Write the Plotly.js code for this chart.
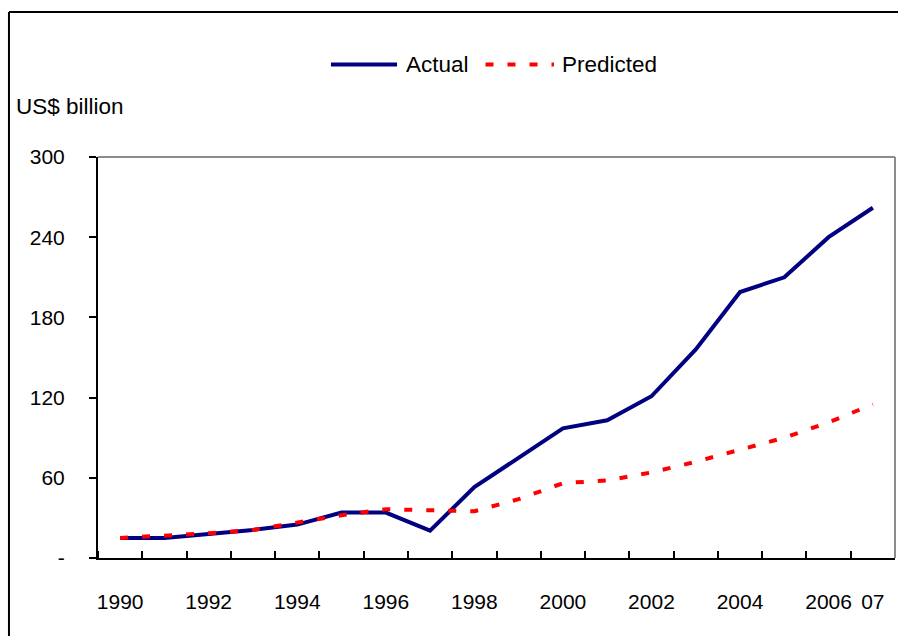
<!DOCTYPE html>
<html>
<head>
<meta charset="utf-8">
<script src="https://cdn.plot.ly/plotly-3.0.1.min.js"></script>
<style>html,body{margin:0;padding:0;background:#fff;}#chart{width:898px;height:636px;}</style>
</head>
<body>
<div id="chart"></div>
<script>
var years = [1990,1991,1992,1993,1994,1995,1996,1997,1998,1999,2000,2001,2002,2003,2004,2005,2006,2007];
var actual = [15,15,18,21,25,34,34,20.5,53,75,97,103,121,156,199,210,240,262];
var predicted = [15,16.5,18.5,21,26.5,32,36.5,35.5,35,44,56,58,64,72,81,90,101.5,115];
var xTickVals = [1990,1992,1994,1996,1998,2000,2002,2004,2006,2007];
var xTickText = ['1990','1992','1994','1996','1998','2000','2002','2004','2006','07'];
var yTickVals = [0,60,120,180,240,300];
var yTickText = ['-','60','120','180','240','300'];
var seriesNames = ['Actual','Predicted'];

var FONT = 'Liberation Sans, Arial, sans-serif';
var traces = [
  {x: years, y: actual, name: seriesNames[0], type: 'scatter', mode: 'lines',
   line: {color: '#000080', width: 4}, showlegend: false},
  {x: years, y: predicted, name: seriesNames[1], type: 'scatter', mode: 'lines',
   line: {color: '#FF0000', width: 4, dash: '8px,14px'}, showlegend: false}
];

var layout = {
  width: 898, height: 636,
  margin: {l: 98, r: 3, t: 157, b: 78},
  paper_bgcolor: '#fff', plot_bgcolor: '#fff',
  font: {family: FONT, color: '#000', size: 21},
  showlegend: false,
  xaxis: {
    range: [1989.5, 2007.5], showgrid: false, zeroline: false,
    tickmode: 'array', tickvals: xTickVals, ticktext: xTickText,
    ticks: '', ticklabelstandoff: 24,
    showline: true, linecolor: '#000', linewidth: 2,
    tickfont: {family: FONT, size: 21, color: '#000'},
    minor: {tickmode: 'linear', tick0: 1989.5, dtick: 1, ticks: 'inside', ticklen: 7, tickwidth: 2, tickcolor: '#000', showgrid: false}
  },
  yaxis: {
    range: [0, 300], showgrid: false, zeroline: false,
    tickmode: 'array', tickvals: yTickVals, ticktext: yTickText,
    ticks: 'outside', ticklen: 7, tickwidth: 2, tickcolor: '#000',
    ticklabelstandoff: 20,
    showline: true, linecolor: '#000', linewidth: 2,
    tickfont: {family: FONT, size: 21, color: '#000'}
  },
  shapes: [
    // grey top and right edges of plot
    {type: 'line', xref: 'paper', yref: 'paper', x0: 0, x1: 1, y0: 1, y1: 1, line: {color: '#8c8c8c', width: 2}},
    {type: 'line', xref: 'paper', yref: 'paper', x0: 1, x1: 1, y0: 0, y1: 1, line: {color: '#8c8c8c', width: 2}},
    // outer frame (left and top)
    {type: 'line', xref: 'paper', yref: 'paper', x0: -0.1117, x1: -0.1117, y0: -0.2, y1: 1.3616, line: {color: '#000', width: 2}},
    {type: 'line', xref: 'paper', yref: 'paper', x0: -0.1117, x1: 1.01, y0: 1.3616, y1: 1.3616, line: {color: '#000', width: 2}},
    // legend samples
    {type: 'line', xref: 'paper', yref: 'paper', x0: 0.2923, x1: 0.3752, y0: 1.2307, y1: 1.2307, line: {color: '#000080', width: 4}},
    {type: 'line', xref: 'paper', yref: 'paper', x0: 0.4862, x1: 0.5721, y0: 1.2307, y1: 1.2307, line: {color: '#FF0000', width: 4, dash: '8px,14px'}}
  ],
  annotations: [
    {text: seriesNames[0], xref: 'paper', yref: 'paper', x: 0.3839, y: 1.2307, xanchor: 'left', yanchor: 'middle', showarrow: false, font: {family: FONT, size: 22.5, color: '#000'}},
    {text: seriesNames[1], xref: 'paper', yref: 'paper', x: 0.5797, y: 1.2307, xanchor: 'left', yanchor: 'middle', showarrow: false, font: {family: FONT, size: 22.5, color: '#000'}},
    {text: 'US$ billion', xref: 'paper', yref: 'paper', x: -0.1054, y: 1.1247, xanchor: 'left', yanchor: 'middle', showarrow: false, font: {family: FONT, size: 22.5, color: '#000'}}
  ]
};

Plotly.newPlot('chart', traces, layout, {staticPlot: true, displayModeBar: false});
</script>
</body>
</html>
